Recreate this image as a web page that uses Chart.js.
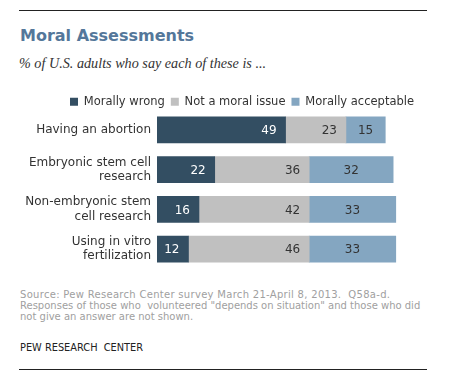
<!DOCTYPE html>
<html>
<head>
<meta charset="utf-8">
<script src="https://cdn.jsdelivr.net/npm/chart.js@4/dist/chart.umd.min.js"></script>
<style>
  html, body { margin: 0; padding: 0; background: #fff; }
  body { width: 470px; height: 381px; position: relative; overflow: hidden; }
  .rule { position: absolute; left: 19px; width: 408px; height: 1px; background: #222; }
  #title { position: absolute; left: 20px; top: 26px; font: bold 16px "DejaVu Sans", Verdana, sans-serif; color: #54779a; white-space: nowrap; }
  #subtitle { position: absolute; left: 19px; top: 55px; font: italic 14.2px "Liberation Serif", Georgia, serif; color: #333; white-space: nowrap; }
  #wrap { position: absolute; left: 0; top: 90px; width: 470px; height: 179px; }
  .note { position: absolute; left: 20px; font: 10px "DejaVu Sans", Verdana, sans-serif; color: #a0a0a0; white-space: pre; line-height: 11px; }
  #credit { position: absolute; left: 20px; top: 342px; font: 9.8px "DejaVu Sans", Verdana, sans-serif; color: #222; white-space: pre; }
</style>
</head>
<body>
<div class="rule" style="top:10px"></div>
<div id="title">Moral Assessments</div>
<div id="subtitle">% of U.S. adults who say each of these is ...</div>
<div id="wrap"><canvas id="c"></canvas></div>
<div class="note" style="top:289px"><span style="letter-spacing:0.3px">Source: Pew Research Center survey March 21-April 8, 2013.  Q58a-d.</span>
Responses of those who  volunteered "depends on situation" and those who did
not give an answer are not shown.</div>
<div id="credit">PEW RESEARCH  CENTER</div>
<div class="rule" style="top:369px"></div>
<script>
const categories = [
  "Having an abortion",
  ["Embryonic stem cell", "research"],
  ["Non-embryonic stem", "cell research"],
  ["Using in vitro", "fertilization"]
];
const seriesNames = ["Morally wrong", "Not a moral issue", "Morally acceptable"];
const morallyWrong = [49, 22, 16, 12];
const notMoralIssue = [23, 36, 42, 46];
const morallyAcceptable = [15, 32, 33, 33];

const colors = ["#334e62", "#c0c0c0", "#84a6c1"];
const labelColors = ["#ffffff", "#333333", "#333333"];
const FONT = "'DejaVu Sans', Verdana, sans-serif";

const valueLabels = {
  id: 'valueLabels',
  afterDatasetsDraw(chart) {
    const ctx = chart.ctx;
    ctx.save();
    ctx.font = "12px " + FONT;
    ctx.textBaseline = 'middle';
    chart.data.datasets.forEach((ds, di) => {
      const meta = chart.getDatasetMeta(di);
      meta.data.forEach((bar, i) => {
        const v = ds.data[i];
        const props = bar.getProps(['x', 'y', 'base'], true);
        ctx.fillStyle = labelColors[di];
        if (di === 2) {
          ctx.textAlign = 'center';
          ctx.fillText(String(v), (props.x + props.base) / 2, props.y + 1);
        } else {
          ctx.textAlign = 'right';
          ctx.fillText(String(v), props.x - 9, props.y + 1);
        }
      });
    });
    ctx.restore();
  }
};

new Chart(document.getElementById('c'), {
  type: 'bar',
  data: {
    labels: categories,
    datasets: [
      { label: seriesNames[0], data: morallyWrong, backgroundColor: colors[0] },
      { label: seriesNames[1], data: notMoralIssue, backgroundColor: colors[1] },
      { label: seriesNames[2], data: morallyAcceptable, backgroundColor: colors[2] }
    ]
  },
  options: {
    indexAxis: 'y',
    responsive: true,
    maintainAspectRatio: false,
    animation: false,
    layout: { padding: { left: 20, right: 6, top: 0, bottom: 0 } },
    datasets: { bar: { barThickness: 26, borderWidth: 0 } },
    plugins: {
      legend: {
        display: true,
        position: 'top',
        maxHeight: 20,
        labels: {
          boxWidth: 8, boxHeight: 8, padding: 6,
          color: '#333', font: { family: FONT, size: 11.5 }
        }
      },
      tooltip: { enabled: false }
    },
    scales: {
      x: {
        stacked: true, min: 0, max: 117, display: false
      },
      y: {
        stacked: true,
        grid: { display: false, drawTicks: false },
        border: { display: false },
        ticks: { color: '#333', padding: 6, font: { family: FONT, size: 12, lineHeight: 1.2 } },
        afterFit(scale) { scale.width = 137; scale.paddingTop = 0; scale.paddingBottom = 0; }
      }
    }
  },
  plugins: [valueLabels]
});
</script>
</body>
</html>
